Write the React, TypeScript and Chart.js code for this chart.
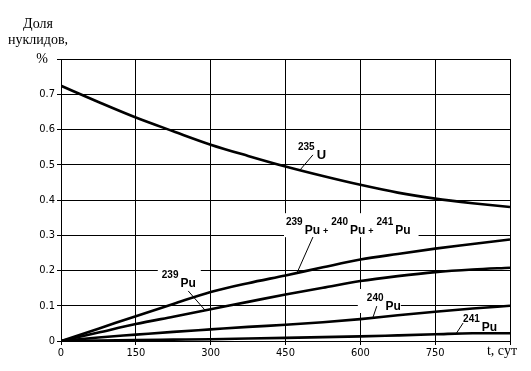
import React, { useEffect, useRef } from 'react';
import { Chart, registerables } from 'chart.js';

Chart.register(...registerables);

// ---- data ----
const days = [0, 75, 150, 225, 300, 375, 450, 525, 600, 675, 750, 825, 900];
const u235 = [0.724, 0.678, 0.634, 0.595, 0.557, 0.525, 0.495, 0.468, 0.443, 0.421, 0.404, 0.391, 0.38];
const puSum = [0, 0.035, 0.0705, 0.105, 0.139, 0.164, 0.186, 0.209, 0.231, 0.247, 0.262, 0.275, 0.288];
const pu239 = [0, 0.024, 0.048, 0.069, 0.09, 0.111, 0.132, 0.151, 0.17, 0.184, 0.1955, 0.203, 0.208];
const pu240 = [0, 0.01, 0.018, 0.026, 0.033, 0.04, 0.046, 0.053, 0.062, 0.073, 0.083, 0.092, 0.1];
const pu241 = [0, 0.001, 0.003, 0.004, 0.005, 0.007, 0.009, 0.011, 0.013, 0.016, 0.019, 0.022, 0.022];

const xTickValues = [0, 150, 300, 450, 600, 750, 900];
const yTickValues = [0, 0.1, 0.2, 0.3, 0.4, 0.5, 0.6, 0.7, 0.8];

const titleLines = ['Доля', 'нуклидов,', '%'];
const xAxisTitle = 't, сут';

// label annotations (data coordinates for anchors and leader lines)
type Part = { sup: string; main: string };
type Label = {
  parts: Part[];
  t: number;
  v: number;
  mainSize: number;
  leader: [number, number, number, number];
  box: null | [number, number];
};
const curveLabels: Label[] = [
  { parts: [{ sup: '235', main: 'U' }], t: 475, v: 0.516, mainSize: 13, leader: [505, 0.528, 479, 0.485], box: null },
  {
    parts: [{ sup: '239', main: 'Pu' }, { sup: '240', main: 'Pu' }, { sup: '241', main: 'Pu' }],
    t: 451, v: 0.303, mainSize: 12, leader: [505, 0.295, 473, 0.193], box: [2, 8],
  },
  { parts: [{ sup: '239', main: 'Pu' }], t: 202, v: 0.153, mainSize: 12, leader: [255, 0.142, 289, 0.087], box: [4, 5] },
  { parts: [{ sup: '240', main: 'Pu' }], t: 613, v: 0.088, mainSize: 12, leader: [633, 0.099, 625, 0.0657], box: [9, 0] },
  { parts: [{ sup: '241', main: 'Pu' }], t: 806, v: 0.028, mainSize: 12, leader: [806, 0.051, 792, 0.0207], box: null },
];

const SANS = "'Liberation Sans', Arial, sans-serif";
const NARROW = "'Liberation Sans Narrow', 'Arial Narrow', 'DejaVu Sans Condensed', sans-serif";
const SERIF = "'Liberation Serif', 'Times New Roman', serif";

function layoutLabel(ctx: CanvasRenderingContext2D, lab: Label, x0: number) {
  const items: { text: string; font: string; x: number; dy: number }[] = [];
  let x = x0;
  lab.parts.forEach((p, i) => {
    if (i > 0) {
      x += 3;
      const f = `bold 9px ${SANS}`;
      ctx.font = f;
      items.push({ text: '+', font: f, x, dy: 0 });
      x += ctx.measureText('+').width + 3;
    }
    const fs = `bold 10px ${SANS}`;
    ctx.font = fs;
    items.push({ text: p.sup, font: fs, x, dy: -9 });
    x += ctx.measureText(p.sup).width + 2;
    const fm = `bold ${lab.mainSize}px ${SANS}`;
    ctx.font = fm;
    items.push({ text: p.main, font: fm, x, dy: 0 });
    x += ctx.measureText(p.main).width;
  });
  return { items, right: x };
}

export default function App() {
  const ref = useRef<HTMLCanvasElement>(null);

  useEffect(() => {
    const canvas = ref.current!;
    const mk = (vals: number[]) => days.map((d, i) => ({ x: d, y: vals[i] }));
    const line = {
      borderColor: '#000',
      backgroundColor: '#000',
      borderWidth: 2.6,
      pointRadius: 0,
      fill: false,
      cubicInterpolationMode: 'monotone' as const,
    };

    const annot = {
      id: 'annot',
      beforeDatasetsDraw(chart: any) {
        const ctx = chart.ctx as CanvasRenderingContext2D;
        const xs = chart.scales.x;
        const ys = chart.scales.y;
        ctx.save();
        curveLabels.forEach((lab) => {
          if (!lab.box) return;
          const x0 = xs.getPixelForValue(lab.t);
          const by = ys.getPixelForValue(lab.v);
          const { right } = layoutLabel(ctx, lab, x0);
          ctx.fillStyle = '#fff';
          const l = x0 - lab.box[0];
          const r = right + lab.box[1];
          ctx.fillRect(l, by - 21, r - l, 24);
        });
        ctx.restore();
      },
      afterDatasetsDraw(chart: any) {
        const ctx = chart.ctx as CanvasRenderingContext2D;
        const xs = chart.scales.x;
        const ys = chart.scales.y;
        ctx.save();
        ctx.fillStyle = '#000';
        ctx.strokeStyle = '#000';
        ctx.lineWidth = 1;
        ctx.textBaseline = 'alphabetic';
        ctx.textAlign = 'left';
        curveLabels.forEach((lab) => {
          const [t1, v1, t2, v2] = lab.leader;
          ctx.beginPath();
          ctx.moveTo(xs.getPixelForValue(t1), ys.getPixelForValue(v1));
          ctx.lineTo(xs.getPixelForValue(t2), ys.getPixelForValue(v2));
          ctx.stroke();
          const x0 = xs.getPixelForValue(lab.t);
          const by = ys.getPixelForValue(lab.v);
          const { items } = layoutLabel(ctx, lab, x0);
          items.forEach((it) => {
            ctx.font = it.font;
            ctx.fillText(it.text, it.x, by + it.dy);
          });
        });
        ctx.restore();
      },
      afterDraw(chart: any) {
        const ctx = chart.ctx as CanvasRenderingContext2D;
        const xs = chart.scales.x;
        const area = chart.chartArea;
        ctx.save();
        ctx.fillStyle = '#000';
        ctx.font = `14px ${SERIF}`;
        ctx.textAlign = 'center';
        ctx.textBaseline = 'alphabetic';
        const cx = area.left - 23;
        ctx.fillText(titleLines[0], cx, area.top - 31);
        ctx.fillText(titleLines[1], cx, area.top - 15);
        ctx.fillText(titleLines[2], cx + 4, area.top + 4);
        ctx.textAlign = 'right';
        ctx.fillText(xAxisTitle, xs.getPixelForValue(900) + 7, area.bottom + 14);
        ctx.restore();
      },
    };

    const tickFont = { family: NARROW, size: 11 };

    const chart = new Chart(canvas, {
      type: 'line',
      data: {
        datasets: [
          { ...line, data: mk(u235) },
          { ...line, data: mk(puSum) },
          { ...line, data: mk(pu239) },
          { ...line, data: mk(pu240) },
          { ...line, data: mk(pu241) },
        ],
      },
      options: {
        animation: false,
        responsive: false,
        devicePixelRatio: 1,
        layout: { padding: { top: 59, right: 21, left: 0, bottom: 0 } },
        plugins: { legend: { display: false }, tooltip: { enabled: false }, title: { display: false } },
        scales: {
          x: {
            type: 'linear',
            min: 0,
            max: 900,
            afterBuildTicks: (s: any) => {
              s.ticks = xTickValues.map((v) => ({ value: v }));
            },
            afterFit: (s: any) => {
              s.height = 30;
            },
            ticks: {
              autoSkip: false,
              maxRotation: 0,
              padding: 2,
              color: '#000',
              font: tickFont,
              callback: (v: any) => (v === 900 ? '' : String(v)),
            },
            grid: { color: '#000', lineWidth: 1, tickLength: 4, tickColor: '#000' },
            border: { color: '#000', width: 1 },
          },
          y: {
            type: 'linear',
            min: 0,
            max: 0.8,
            afterBuildTicks: (s: any) => {
              s.ticks = yTickValues.map((v) => ({ value: v }));
            },
            afterFit: (s: any) => {
              s.width = 61;
            },
            ticks: {
              autoSkip: false,
              padding: 2,
              color: '#000',
              font: tickFont,
              callback: (v: any) => (v > 0.75 ? '' : v === 0 ? '0' : Number(v).toFixed(1)),
            },
            grid: { color: '#000', lineWidth: 1, tickLength: 4, tickColor: '#000' },
            border: { color: '#000', width: 1 },
          },
        },
      } as any,
      plugins: [annot],
    });
    return () => chart.destroy();
  }, []);

  return (
    <div style={{ position: 'absolute', left: 0, top: 0, width: 531, height: 371, background: '#fff' }}>
      <canvas ref={ref} width={531} height={371} style={{ display: 'block' }} />
    </div>
  );
}
